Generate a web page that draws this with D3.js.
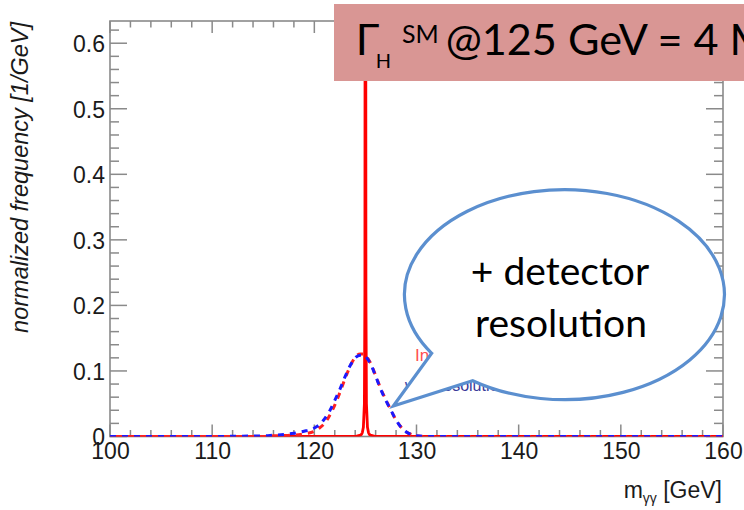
<!DOCTYPE html>
<html><head><meta charset="utf-8">
<script src="https://cdn.jsdelivr.net/npm/d3@7"></script>
<style>body{margin:0;background:#fff;} svg{display:block;}</style>
</head><body>
<svg id="c" width="744" height="510"></svg>
<script>
// ---------- data ----------
const xTickValues = [100, 110, 120, 130, 140, 150, 160];
const xTickLabels = ["100", "110", "120", "130", "140", "150", "160"];
const yTickValues = [0, 0.1, 0.2, 0.3, 0.4, 0.5, 0.6];
const yTickLabels = ["0", "0.1", "0.2", "0.3", "0.4", "0.5", "0.6"];

// intrinsic line shape (solid red spike)
const intrinsicMass = [100, 110, 120, 124, 124.5, 124.6, 124.7, 124.8, 124.9, 124.95, 125, 125.05, 125.1, 125.2, 125.3, 125.4, 125.5, 126, 130, 140, 150, 160];
const intrinsicFreq = [0, 0, 0, 0, 0.002, 0.003, 0.006, 0.014, 0.05, 0.22, 1.6, 0.22, 0.05, 0.014, 0.006, 0.003, 0.002, 0, 0, 0, 0, 0];

// smeared shapes (dashed)
const smearMass = [100, 105, 110, 113, 115, 116, 117, 118, 119, 120, 120.5, 121, 121.5, 122, 122.5, 123, 123.5, 124, 124.5, 124.8, 125, 125.5, 126, 126.5, 127, 127.5, 128, 128.5, 129, 129.5, 130, 131, 135, 140, 145, 150, 155, 160];
const smearBlue = [0, 0, 0, 0.0005, 0.001, 0.002, 0.003, 0.005, 0.008, 0.013, 0.018, 0.027, 0.039, 0.055, 0.072, 0.091, 0.108, 0.12, 0.124, 0.124, 0.122, 0.111, 0.092, 0.072, 0.055, 0.04, 0.025, 0.014, 0.007, 0.003, 0.001, 0, 0, 0, 0, 0, 0, 0];
const smearRed  = [0, 0, 0, 0, 0, 0.001, 0.0015, 0.002, 0.004, 0.008, 0.013, 0.02, 0.032, 0.048, 0.067, 0.088, 0.107, 0.121, 0.126, 0.126, 0.124, 0.112, 0.093, 0.073, 0.056, 0.04, 0.025, 0.014, 0.007, 0.003, 0.001, 0, 0, 0, 0, 0, 0, 0];

const yTitle = "normalized frequency [1/GeV]";
const legendRed = "Intrinsic width";
const legendBlue = "with resolution";
const bubbleLines = ["+ detector", "resolution"];

// ---------- layout ----------
const svg = d3.select("#c");
const L = 110, R = 723, T = 21, B = 436.5;
const x = d3.scaleLinear().domain([100, 160]).range([L, R]);
const y = d3.scaleLinear().domain([0, 0.6339]).range([B, T]);
const axisCol = "#8a8a8a";
const labFont = "'Liberation Sans', Arial, Helvetica, sans-serif";

svg.append("defs").append("clipPath").attr("id", "pc")
  .append("rect").attr("x", L).attr("y", T).attr("width", R - L).attr("height", B - T);

const xMinor = d3.range(100, 160.001, 2);
const yMinor = d3.range(0, 0.6339, 0.02);

const g = svg.append("g");
g.append("rect").attr("x", L).attr("y", T).attr("width", R - L).attr("height", B - T)
  .attr("fill", "none").attr("stroke", axisCol).attr("stroke-width", 1.6);

xMinor.forEach(v => {
  const major = Math.abs(v % 10) < 1e-6;
  const len = major ? 12 : 6.5;
  g.append("line").attr("x1", x(v)).attr("x2", x(v)).attr("y1", B).attr("y2", B - len)
    .attr("stroke", axisCol).attr("stroke-width", 1.5);
  g.append("line").attr("x1", x(v)).attr("x2", x(v)).attr("y1", T).attr("y2", T + len)
    .attr("stroke", axisCol).attr("stroke-width", 1.5);
});
yMinor.forEach((v, i) => {
  const major = i % 5 === 0;
  const len = major ? 17 : 9;
  g.append("line").attr("x1", L).attr("x2", L + len).attr("y1", y(v)).attr("y2", y(v))
    .attr("stroke", axisCol).attr("stroke-width", 1.5);
  g.append("line").attr("x1", R).attr("x2", R - len).attr("y1", y(v)).attr("y2", y(v))
    .attr("stroke", axisCol).attr("stroke-width", 1.5);
});

const xAxis = d3.axisBottom(x).tickValues(xTickValues).tickFormat((d, i) => xTickLabels[i]).tickSize(0).tickPadding(0);
const xa = svg.append("g").attr("transform", `translate(0,${B})`).call(xAxis);
xa.select(".domain").remove();
xa.selectAll("text").attr("font-family", labFont).attr("font-size", 23).attr("fill", "#1a1a1a")
  .attr("dy", null).attr("y", 22.5);

const yAxis = d3.axisLeft(y).tickValues(yTickValues).tickFormat((d, i) => yTickLabels[i]).tickSize(0).tickPadding(5);
const ya = svg.append("g").attr("transform", `translate(${L},0)`).call(yAxis);
ya.select(".domain").remove();
ya.selectAll("text").attr("font-family", labFont).attr("font-size", 23).attr("fill", "#1a1a1a")
  .attr("dy", "0.36em");

svg.append("text").attr("transform", `translate(28,22) rotate(-90)`)
  .attr("text-anchor", "end").attr("font-family", labFont).attr("font-style", "italic")
  .attr("font-size", 23.5).attr("fill", "#1a1a1a").text(yTitle);

const xt = svg.append("text").attr("x", 722).attr("y", 498).attr("text-anchor", "end")
  .attr("font-family", labFont).attr("font-size", 23).attr("fill", "#1a1a1a");
xt.append("tspan").text("m");
xt.append("tspan").attr("font-size", 14).attr("dy", 5).text("γγ");
xt.append("tspan").attr("dy", -5).text(" [GeV]");

// legend text (mostly hidden by the bubble)
svg.append("text").attr("x", 415).attr("y", 361).attr("font-family", labFont).attr("font-size", 17)
  .attr("fill", "#ff5050").text(legendRed);
svg.append("text").attr("x", 405).attr("y", 391).attr("font-family", labFont).attr("font-size", 16)
  .attr("fill", "#3a3a9a").text(legendBlue);

// curves
const plot = svg.append("g").attr("clip-path", "url(#pc)");
const lineOf = (xs, ys, curve) => d3.line().x((d, i) => x(xs[i])).y((d, i) => y(ys[i])).curve(curve)(xs);

plot.append("path").attr("d", lineOf(intrinsicMass, intrinsicFreq, d3.curveLinear))
  .attr("fill", "none").attr("stroke", "#ff0000").attr("stroke-width", 2.8).attr("stroke-linejoin", "round");
plot.append("path").attr("d", lineOf(smearMass, smearRed, d3.curveMonotoneX))
  .attr("fill", "none").attr("stroke", "#ff2020").attr("stroke-width", 3)
  .attr("stroke-dasharray", "6 6").attr("stroke-dashoffset", 6);
plot.append("path").attr("d", lineOf(smearMass, smearBlue, d3.curveMonotoneX))
  .attr("fill", "none").attr("stroke", "#1a1aff").attr("stroke-width", 3)
  .attr("stroke-dasharray", "6 6");

// speech bubble
const rx = 160, ry = 105;
const A = [472.7, 380.7], Bp = [431.7, 353.3], tip = [393.3, 406];
svg.append("path")
  .attr("d", `M${A[0]},${A[1]} A${rx},${ry} 0 1 0 ${Bp[0]},${Bp[1]} L${tip[0]},${tip[1]} Z`)
  .attr("fill", "#fff").attr("stroke", "#5b8fcf").attr("stroke-width", 3.2).attr("stroke-linejoin", "miter");

const bubFont = "Lato, 'Open Sans', sans-serif";
function fitText(sel, target) {
  const w = sel.node().getComputedTextLength();
  const fs = parseFloat(sel.attr("font-size"));
  sel.attr("font-size", fs * target / w);
  return fs * target / w;
}
const b2 = svg.append("text").attr("x", 561).attr("y", 337).attr("text-anchor", "middle")
  .attr("font-family", bubFont).attr("font-size", 40).attr("fill", "#000").text(bubbleLines[1]);
const bfs = fitText(b2, 172);
svg.append("text").attr("x", 560).attr("y", 285).attr("text-anchor", "middle")
  .attr("font-family", bubFont).attr("font-size", bfs).attr("fill", "#000").text(bubbleLines[0]);

// title box
svg.append("rect").attr("x", 334).attr("y", 4).attr("width", 420).attr("height", 77).attr("fill", "#d99694");
const tMain = svg.append("text").attr("x", 445.7).attr("y", 55).attr("font-family", bubFont)
  .attr("font-size", 40).attr("fill", "#000").text("@125 GeV = 4");
const tfs = fitText(tMain, 273);
tMain.text("@125 GeV = 4 MeV");
svg.append("text").attr("x", 355.7).attr("y", 55).attr("font-family", bubFont)
  .attr("font-size", tfs).attr("fill", "#000").text("Γ");
svg.append("text").attr("x", 375.7).attr("y", 68).attr("font-family", bubFont)
  .attr("font-size", 20).attr("fill", "#000").text("H");
svg.append("text").attr("x", 402).attr("y", 43).attr("font-family", bubFont)
  .attr("font-size", 25).attr("fill", "#000").text("SM");
</script>
</body></html>
